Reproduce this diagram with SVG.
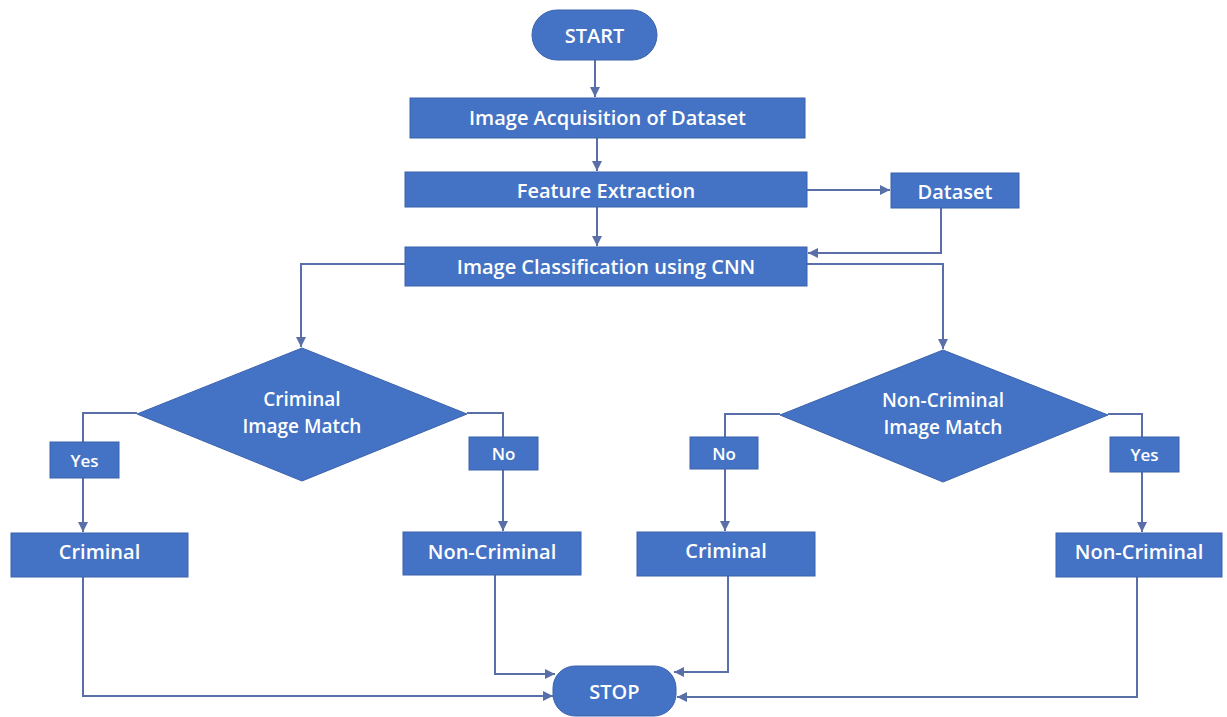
<svg xmlns="http://www.w3.org/2000/svg" width="1227" height="717" viewBox="0 0 1227 717">
<defs>
<style>
.box{fill:#4472C4;stroke:#3b63ad;stroke-width:1}
.t{fill:#ffffff;font-family:"Open Sans","Noto Sans",sans-serif;font-weight:600;font-size:20px;text-anchor:middle;dominant-baseline:central}
.s{font-size:17px}
.d{font-size:19px}
.c{fill:none;stroke:#5a6ea8;stroke-width:2}
</style>
<marker id="ah" viewBox="0 0 10 10" refX="10" refY="5" markerWidth="5" markerHeight="5" orient="auto" markerUnits="strokeWidth">
<path d="M0,0 L10,5 L0,10 z" fill="#5a6ea8"/>
</marker>
</defs>
<rect width="1227" height="717" fill="#ffffff"/>
<g id="connectors">
<path class="c" d="M595,60 V97" marker-end="url(#ah)"/>
<path class="c" d="M597,138 V171" marker-end="url(#ah)"/>
<path class="c" d="M597,207 V246" marker-end="url(#ah)"/>
<path class="c" d="M807,190 H890" marker-end="url(#ah)"/>
<path class="c" d="M941,208 V253 H808" marker-end="url(#ah)"/>
<path class="c" d="M807,264 H943 V349" marker-end="url(#ah)"/>
<path class="c" d="M405,264 H301 V347" marker-end="url(#ah)"/>
<path class="c" d="M137,413 H83 V532" marker-end="url(#ah)"/>
<path class="c" d="M467,413 H503 V531" marker-end="url(#ah)"/>
<path class="c" d="M780,414 H725 V531" marker-end="url(#ah)"/>
<path class="c" d="M1108,414 H1142 V532" marker-end="url(#ah)"/>
<path class="c" d="M83,577 V696 H553" marker-end="url(#ah)"/>
<path class="c" d="M495,575 V674 H555" marker-end="url(#ah)"/>
<path class="c" d="M728,576 V672 H674" marker-end="url(#ah)"/>
<path class="c" d="M1137,577 V697 H677" marker-end="url(#ah)"/>
</g>
<g id="start">
<rect class="box" x="532" y="10" width="125" height="50" rx="25"/>
<text class="t" x="594.5" y="35">START</text>
</g>
<g id="acquisition">
<rect class="box" x="410" y="98" width="395" height="40"/>
<text class="t" x="607.5" y="117">Image Acquisition of Dataset</text>
</g>
<g id="feature">
<rect class="box" x="405" y="172" width="402" height="35"/>
<text class="t" x="606" y="190">Feature Extraction</text>
</g>
<g id="dataset">
<rect class="box" x="891" y="173" width="128" height="35"/>
<text class="t" x="955" y="191">Dataset</text>
</g>
<g id="classification">
<rect class="box" x="405" y="247" width="402" height="39"/>
<text class="t" x="606" y="266">Image Classification using CNN</text>
</g>
<g id="criminal-match">
<polygon class="box" points="302,348 467,414 302,481 137,414"/>
<text class="t d" x="302" y="399">Criminal</text>
<text class="t d" x="302" y="426">Image Match</text>
</g>
<g id="noncriminal-match">
<polygon class="box" points="943,350 1108,415 943,482 780,415"/>
<text class="t d" x="943" y="400">Non-Criminal</text>
<text class="t d" x="943" y="427">Image Match</text>
</g>
<g id="yes-left">
<rect class="box" x="50" y="442" width="69" height="36"/>
<text class="t s" x="84.5" y="460">Yes</text>
</g>
<g id="no-left">
<rect class="box" x="469" y="437" width="69" height="33"/>
<text class="t s" x="503.5" y="453.5">No</text>
</g>
<g id="no-right">
<rect class="box" x="690" y="437" width="68" height="32"/>
<text class="t s" x="724" y="453">No</text>
</g>
<g id="yes-right">
<rect class="box" x="1110" y="437" width="69" height="35"/>
<text class="t s" x="1144.5" y="454.5">Yes</text>
</g>
<g id="criminal-1">
<rect class="box" x="11" y="533" width="177" height="44"/>
<text class="t" x="99.5" y="551">Criminal</text>
</g>
<g id="noncriminal-1">
<rect class="box" x="403" y="532" width="178" height="43"/>
<text class="t" x="492" y="551">Non-Criminal</text>
</g>
<g id="criminal-2">
<rect class="box" x="637" y="532" width="178" height="44"/>
<text class="t" x="726" y="550">Criminal</text>
</g>
<g id="noncriminal-2">
<rect class="box" x="1056" y="533" width="166" height="44"/>
<text class="t" x="1139" y="551">Non-Criminal</text>
</g>
<g id="stop">
<rect class="box" x="553" y="666" width="123" height="50" rx="22"/>
<text class="t" x="614.5" y="691">STOP</text>
</g>
</svg>
